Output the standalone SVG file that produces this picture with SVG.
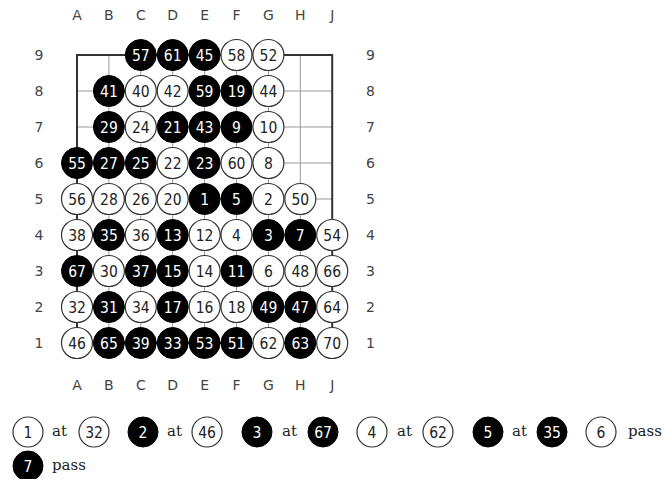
<svg xmlns="http://www.w3.org/2000/svg" width="666" height="479" viewBox="0 0 666 479">
<style>
.bg{fill:#fff}
.grid line{stroke:#999;stroke-width:1}
.frame{fill:none;stroke:#333;stroke-width:2}
.lbl{font-family:"DejaVu Sans",sans-serif;font-size:14px;fill:#444;text-anchor:middle}
.b circle{fill:#000;stroke:#000;stroke-width:1}
.w circle{fill:#fff;stroke:#333;stroke-width:1.2}
.b text,.w text{font-family:"DejaVu Sans Condensed","DejaVu Sans",sans-serif;font-stretch:condensed;font-size:15.5px;text-anchor:middle}
.b text{fill:#fff}
.w text{fill:#222}
.cap{font-family:"DejaVu Serif",serif;font-size:15px;fill:#222}
</style>
<rect class="bg" x="0" y="0" width="666" height="479"/>
<g id="board">
<g class="grid">
<line x1="108.9" y1="55" x2="108.9" y2="343"/>
<line x1="140.8" y1="55" x2="140.8" y2="343"/>
<line x1="172.7" y1="55" x2="172.7" y2="343"/>
<line x1="204.6" y1="55" x2="204.6" y2="343"/>
<line x1="236.5" y1="55" x2="236.5" y2="343"/>
<line x1="268.4" y1="55" x2="268.4" y2="343"/>
<line x1="300.3" y1="55" x2="300.3" y2="343"/>
<line x1="77" y1="91" x2="332.2" y2="91"/>
<line x1="77" y1="127" x2="332.2" y2="127"/>
<line x1="77" y1="163" x2="332.2" y2="163"/>
<line x1="77" y1="199" x2="332.2" y2="199"/>
<line x1="77" y1="235" x2="332.2" y2="235"/>
<line x1="77" y1="271" x2="332.2" y2="271"/>
<line x1="77" y1="307" x2="332.2" y2="307"/>
</g>
<rect class="frame" x="77" y="55" width="255.2" height="288"/>
</g>
<g id="labels" class="lbl">
<text x="77" y="20">A</text><text x="108.9" y="20">B</text><text x="140.8" y="20">C</text><text x="172.7" y="20">D</text><text x="204.6" y="20">E</text><text x="236.5" y="20">F</text><text x="268.4" y="20">G</text><text x="300.3" y="20">H</text><text x="332.2" y="20">J</text>
<text x="77" y="390">A</text><text x="108.9" y="390">B</text><text x="140.8" y="390">C</text><text x="172.7" y="390">D</text><text x="204.6" y="390">E</text><text x="236.5" y="390">F</text><text x="268.4" y="390">G</text><text x="300.3" y="390">H</text><text x="332.2" y="390">J</text>
<text x="39" y="60">9</text><text x="39" y="96">8</text><text x="39" y="132">7</text><text x="39" y="168">6</text><text x="39" y="204">5</text><text x="39" y="240">4</text><text x="39" y="276">3</text><text x="39" y="312">2</text><text x="39" y="348">1</text>
<text x="370.5" y="60">9</text><text x="370.5" y="96">8</text><text x="370.5" y="132">7</text><text x="370.5" y="168">6</text><text x="370.5" y="204">5</text><text x="370.5" y="240">4</text><text x="370.5" y="276">3</text><text x="370.5" y="312">2</text><text x="370.5" y="348">1</text>
</g>
<g id="stones">
<g id="s57" class="b"><circle cx="140.8" cy="55" r="15.5"/><text x="140.8" y="60.5">57</text></g>
<g id="s61" class="b"><circle cx="172.7" cy="55" r="15.5"/><text x="172.7" y="60.5">61</text></g>
<g id="s45" class="b"><circle cx="204.6" cy="55" r="15.5"/><text x="204.6" y="60.5">45</text></g>
<g id="s58" class="w"><circle cx="236.5" cy="55" r="15.5"/><text x="236.5" y="60.5">58</text></g>
<g id="s52" class="w"><circle cx="268.4" cy="55" r="15.5"/><text x="268.4" y="60.5">52</text></g>

<g id="s41" class="b"><circle cx="108.9" cy="91" r="15.5"/><text x="108.9" y="96.5">41</text></g>
<g id="s40" class="w"><circle cx="140.8" cy="91" r="15.5"/><text x="140.8" y="96.5">40</text></g>
<g id="s42" class="w"><circle cx="172.7" cy="91" r="15.5"/><text x="172.7" y="96.5">42</text></g>
<g id="s59" class="b"><circle cx="204.6" cy="91" r="15.5"/><text x="204.6" y="96.5">59</text></g>
<g id="s19" class="b"><circle cx="236.5" cy="91" r="15.5"/><text x="236.5" y="96.5">19</text></g>
<g id="s44" class="w"><circle cx="268.4" cy="91" r="15.5"/><text x="268.4" y="96.5">44</text></g>

<g id="s29" class="b"><circle cx="108.9" cy="127" r="15.5"/><text x="108.9" y="132.5">29</text></g>
<g id="s24" class="w"><circle cx="140.8" cy="127" r="15.5"/><text x="140.8" y="132.5">24</text></g>
<g id="s21" class="b"><circle cx="172.7" cy="127" r="15.5"/><text x="172.7" y="132.5">21</text></g>
<g id="s43" class="b"><circle cx="204.6" cy="127" r="15.5"/><text x="204.6" y="132.5">43</text></g>
<g id="s9" class="b"><circle cx="236.5" cy="127" r="15.5"/><text x="236.5" y="132.5">9</text></g>
<g id="s10" class="w"><circle cx="268.4" cy="127" r="15.5"/><text x="268.4" y="132.5">10</text></g>

<g id="s55" class="b"><circle cx="77" cy="163" r="15.5"/><text x="77" y="168.5">55</text></g>
<g id="s27" class="b"><circle cx="108.9" cy="163" r="15.5"/><text x="108.9" y="168.5">27</text></g>
<g id="s25" class="b"><circle cx="140.8" cy="163" r="15.5"/><text x="140.8" y="168.5">25</text></g>
<g id="s22" class="w"><circle cx="172.7" cy="163" r="15.5"/><text x="172.7" y="168.5">22</text></g>
<g id="s23" class="b"><circle cx="204.6" cy="163" r="15.5"/><text x="204.6" y="168.5">23</text></g>
<g id="s60" class="w"><circle cx="236.5" cy="163" r="15.5"/><text x="236.5" y="168.5">60</text></g>
<g id="s8" class="w"><circle cx="268.4" cy="163" r="15.5"/><text x="268.4" y="168.5">8</text></g>

<g id="s56" class="w"><circle cx="77" cy="199" r="15.5"/><text x="77" y="204.5">56</text></g>
<g id="s28" class="w"><circle cx="108.9" cy="199" r="15.5"/><text x="108.9" y="204.5">28</text></g>
<g id="s26" class="w"><circle cx="140.8" cy="199" r="15.5"/><text x="140.8" y="204.5">26</text></g>
<g id="s20" class="w"><circle cx="172.7" cy="199" r="15.5"/><text x="172.7" y="204.5">20</text></g>
<g id="s1" class="b"><circle cx="204.6" cy="199" r="15.5"/><text x="204.6" y="204.5">1</text></g>
<g id="s5" class="b"><circle cx="236.5" cy="199" r="15.5"/><text x="236.5" y="204.5">5</text></g>
<g id="s2" class="w"><circle cx="268.4" cy="199" r="15.5"/><text x="268.4" y="204.5">2</text></g>
<g id="s50" class="w"><circle cx="300.3" cy="199" r="15.5"/><text x="300.3" y="204.5">50</text></g>

<g id="s38" class="w"><circle cx="77" cy="235" r="15.5"/><text x="77" y="240.5">38</text></g>
<g id="s35" class="b"><circle cx="108.9" cy="235" r="15.5"/><text x="108.9" y="240.5">35</text></g>
<g id="s36" class="w"><circle cx="140.8" cy="235" r="15.5"/><text x="140.8" y="240.5">36</text></g>
<g id="s13" class="b"><circle cx="172.7" cy="235" r="15.5"/><text x="172.7" y="240.5">13</text></g>
<g id="s12" class="w"><circle cx="204.6" cy="235" r="15.5"/><text x="204.6" y="240.5">12</text></g>
<g id="s4" class="w"><circle cx="236.5" cy="235" r="15.5"/><text x="236.5" y="240.5">4</text></g>
<g id="s3" class="b"><circle cx="268.4" cy="235" r="15.5"/><text x="268.4" y="240.5">3</text></g>
<g id="s7" class="b"><circle cx="300.3" cy="235" r="15.5"/><text x="300.3" y="240.5">7</text></g>
<g id="s54" class="w"><circle cx="332.2" cy="235" r="15.5"/><text x="332.2" y="240.5">54</text></g>

<g id="s67" class="b"><circle cx="77" cy="271" r="15.5"/><text x="77" y="276.5">67</text></g>
<g id="s30" class="w"><circle cx="108.9" cy="271" r="15.5"/><text x="108.9" y="276.5">30</text></g>
<g id="s37" class="b"><circle cx="140.8" cy="271" r="15.5"/><text x="140.8" y="276.5">37</text></g>
<g id="s15" class="b"><circle cx="172.7" cy="271" r="15.5"/><text x="172.7" y="276.5">15</text></g>
<g id="s14" class="w"><circle cx="204.6" cy="271" r="15.5"/><text x="204.6" y="276.5">14</text></g>
<g id="s11" class="b"><circle cx="236.5" cy="271" r="15.5"/><text x="236.5" y="276.5">11</text></g>
<g id="s6" class="w"><circle cx="268.4" cy="271" r="15.5"/><text x="268.4" y="276.5">6</text></g>
<g id="s48" class="w"><circle cx="300.3" cy="271" r="15.5"/><text x="300.3" y="276.5">48</text></g>
<g id="s66" class="w"><circle cx="332.2" cy="271" r="15.5"/><text x="332.2" y="276.5">66</text></g>

<g id="s32" class="w"><circle cx="77" cy="307" r="15.5"/><text x="77" y="312.5">32</text></g>
<g id="s31" class="b"><circle cx="108.9" cy="307" r="15.5"/><text x="108.9" y="312.5">31</text></g>
<g id="s34" class="w"><circle cx="140.8" cy="307" r="15.5"/><text x="140.8" y="312.5">34</text></g>
<g id="s17" class="b"><circle cx="172.7" cy="307" r="15.5"/><text x="172.7" y="312.5">17</text></g>
<g id="s16" class="w"><circle cx="204.6" cy="307" r="15.5"/><text x="204.6" y="312.5">16</text></g>
<g id="s18" class="w"><circle cx="236.5" cy="307" r="15.5"/><text x="236.5" y="312.5">18</text></g>
<g id="s49" class="b"><circle cx="268.4" cy="307" r="15.5"/><text x="268.4" y="312.5">49</text></g>
<g id="s47" class="b"><circle cx="300.3" cy="307" r="15.5"/><text x="300.3" y="312.5">47</text></g>
<g id="s64" class="w"><circle cx="332.2" cy="307" r="15.5"/><text x="332.2" y="312.5">64</text></g>

<g id="s46" class="w"><circle cx="77" cy="343" r="15.5"/><text x="77" y="348.5">46</text></g>
<g id="s65" class="b"><circle cx="108.9" cy="343" r="15.5"/><text x="108.9" y="348.5">65</text></g>
<g id="s39" class="b"><circle cx="140.8" cy="343" r="15.5"/><text x="140.8" y="348.5">39</text></g>
<g id="s33" class="b"><circle cx="172.7" cy="343" r="15.5"/><text x="172.7" y="348.5">33</text></g>
<g id="s53" class="b"><circle cx="204.6" cy="343" r="15.5"/><text x="204.6" y="348.5">53</text></g>
<g id="s51" class="b"><circle cx="236.5" cy="343" r="15.5"/><text x="236.5" y="348.5">51</text></g>
<g id="s62" class="w"><circle cx="268.4" cy="343" r="15.5"/><text x="268.4" y="348.5">62</text></g>
<g id="s63" class="b"><circle cx="300.3" cy="343" r="15.5"/><text x="300.3" y="348.5">63</text></g>
<g id="s70" class="w"><circle cx="332.2" cy="343" r="15.5"/><text x="332.2" y="348.5">70</text></g>
</g>
<g id="legend">
<g id="l1" class="w"><circle cx="28" cy="432" r="15"/><text x="28" y="437.5">1</text></g>
<text class="cap" x="52" y="436">at</text>
<g id="l32" class="w"><circle cx="94" cy="432" r="15"/><text x="94" y="437.5">32</text></g>
<g id="l2" class="b"><circle cx="143" cy="432" r="15"/><text x="143" y="437.5">2</text></g>
<text class="cap" x="167" y="436">at</text>
<g id="l46" class="w"><circle cx="207" cy="432" r="15"/><text x="207" y="437.5">46</text></g>
<g id="l3" class="b"><circle cx="257" cy="432" r="15"/><text x="257" y="437.5">3</text></g>
<text class="cap" x="282" y="436">at</text>
<g id="l67" class="b"><circle cx="323" cy="432" r="15"/><text x="323" y="437.5">67</text></g>
<g id="l4" class="w"><circle cx="372" cy="432" r="15"/><text x="372" y="437.5">4</text></g>
<text class="cap" x="397" y="436">at</text>
<g id="l62" class="w"><circle cx="438" cy="432" r="15"/><text x="438" y="437.5">62</text></g>
<g id="l5" class="b"><circle cx="488" cy="432" r="15"/><text x="488" y="437.5">5</text></g>
<text class="cap" x="512" y="436">at</text>
<g id="l35" class="b"><circle cx="552" cy="432" r="15"/><text x="552" y="437.5">35</text></g>
<g id="l6" class="w"><circle cx="601" cy="432" r="15"/><text x="601" y="437.5">6</text></g>
<text class="cap" x="628" y="436">pass</text>
<g id="l7" class="b"><circle cx="28" cy="466" r="15"/><text x="28" y="471.5">7</text></g>
<text class="cap" x="52" y="470">pass</text>
</g>
</svg>
